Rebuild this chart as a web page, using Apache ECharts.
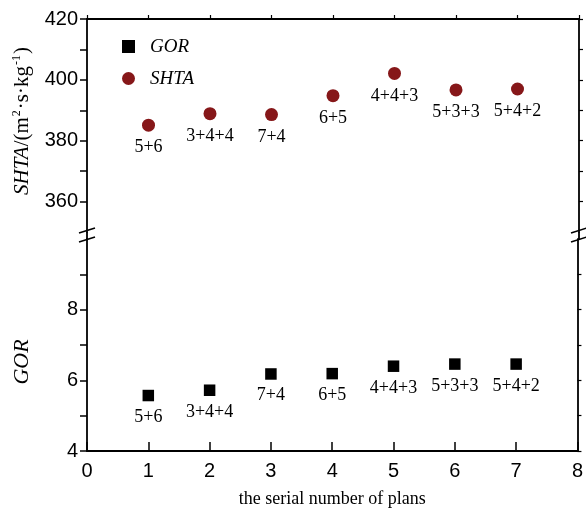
<!DOCTYPE html>
<html>
<head>
<meta charset="utf-8">
<script src="https://cdn.jsdelivr.net/npm/echarts@6/dist/echarts.min.js"></script>
<style>
  html, body { margin: 0; padding: 0; background: #fff; }
  #chart { width: 586px; height: 518px; }
</style>
</head>
<body>
<div id="chart"></div>
<script>
// Plan numbers and their stage arrangements
const plans = [1, 2, 3, 4, 5, 6, 7];
const planLabels = ['5+6', '3+4+4', '7+4', '6+5', '4+4+3', '5+3+3', '5+4+2'];

// Specific heat transfer area, m²·s·kg⁻¹
const shta = [385.1, 388.9, 388.6, 394.8, 402.1, 396.7, 397.0];
// Gained output ratio
const gor = [5.57, 5.72, 6.18, 6.19, 6.40, 6.46, 6.46];

// Tick values
const xTicks = [0, 1, 2, 3, 4, 5, 6, 7, 8];
const shtaTickLabels = [360, 380, 400, 420];
const shtaTicks = [360, 370, 380, 390, 400, 410, 420];
const gorTickLabels = [4, 6, 8];
const gorTicks = [4, 5, 6, 7, 8, 9];

// Layout of the two stacked panels (broken y axis)
const L = 87, R = 7, TOP = 19, TOP_H = 213, BOT_TOP = 239, BOT = 67;
const W = 586, H = 518;
const xLeft = L, xRight = W - R;
const breakTop = TOP + TOP_H, breakBot = BOT_TOP;

const black = '#000';
const red = '#861719';
const lineW = 1.8;
const sans = 'Liberation Sans';
const serif = 'Liberation Serif';

const axisLine = { show: true, onZero: false, lineStyle: { color: black, width: lineW } };

const pts = (ys) => plans.map((x, i) => [x, ys[i]]);

const chart = echarts.init(document.getElementById('chart'), null, { renderer: 'canvas' });

function breakMarks(x) {
  const out = [];
  [breakTop - 1.5, breakBot + 0.5].forEach((y) => {
    out.push({
      type: 'line', z: 100,
      shape: { x1: x - 8, y1: y + 2.6, x2: x + 8, y2: y - 2.6 },
      style: { stroke: black, lineWidth: 1.6 }
    });
  });
  out.push({
    type: 'line', z: 99,
    shape: { x1: x, y1: breakTop, x2: x, y2: breakBot },
    style: { stroke: black, lineWidth: lineW }
  });
  return out;
}

const pointLabel = {
  show: true, position: 'bottom', distance: 7,
  fontFamily: serif, fontSize: 18, color: black, opacity: 1,
  formatter: (p) => planLabels[p.dataIndex]
};

const option = {
  animation: false,
  backgroundColor: '#fff',
  grid: [
    { left: L, right: R, top: TOP, height: TOP_H },
    { left: L, right: R, top: BOT_TOP, bottom: BOT }
  ],
  legend: {
    orient: 'vertical',
    left: 117, top: 32,
    itemWidth: 13, itemHeight: 13, itemGap: 13,
    data: [{ name: 'GOR', icon: 'rect' }, { name: 'SHTA', icon: 'circle' }],
    textStyle: { fontFamily: serif, fontStyle: 'italic', fontSize: 19, color: black, padding: [0, 0, 0, 10] }
  },
  xAxis: [
    {
      gridIndex: 0, type: 'value', min: 0, max: 8, interval: 1, position: 'top',
      axisLine: axisLine,
      axisTick: { show: true, inside: false, length: 4, lineStyle: { color: black, width: 1.2 } },
      axisLabel: { show: false }, splitLine: { show: false }
    },
    {
      gridIndex: 1, type: 'value', min: 0, max: 8, interval: 1, position: 'bottom',
      axisLine: axisLine,
      axisTick: { show: true, inside: true, length: 9, lineStyle: { color: black, width: 1.5 } },
      axisLabel: { show: true, margin: 10, fontFamily: sans, fontSize: 20, color: black,
        formatter: (v) => xTicks.includes(v) ? String(v) : '' },
      splitLine: { show: false },
      name: 'the serial number of plans', nameLocation: 'middle', nameGap: 39,
      nameTextStyle: { fontFamily: serif, fontSize: 18, color: black }
    }
  ],
  yAxis: [
    {
      gridIndex: 0, type: 'value', min: 350, max: 420, position: 'left',
      axisLine: axisLine,
      axisTick: { show: true, inside: false, length: 7, customValues: shtaTicks, lineStyle: { color: black, width: 1.5 } },
      axisLabel: { show: true, margin: 9, fontFamily: sans, fontSize: 20, color: black, customValues: shtaTickLabels },
      splitLine: { show: false }
    },
    {
      gridIndex: 0, type: 'value', min: 350, max: 420, position: 'right',
      axisLine: axisLine,
      axisTick: { show: true, inside: false, length: 4, customValues: shtaTicks, lineStyle: { color: black, width: 1.2 } },
      axisLabel: { show: false }, splitLine: { show: false }
    },
    {
      gridIndex: 1, type: 'value', min: 4, max: 10, position: 'left',
      axisLine: axisLine,
      axisTick: { show: true, inside: false, length: 7, customValues: gorTicks, lineStyle: { color: black, width: 1.5 } },
      axisLabel: { show: true, margin: 9, fontFamily: sans, fontSize: 20, color: black, customValues: gorTickLabels },
      splitLine: { show: false }
    },
    {
      gridIndex: 1, type: 'value', min: 4, max: 10, position: 'right',
      axisLine: axisLine,
      axisTick: { show: true, inside: false, length: 4, customValues: gorTicks, lineStyle: { color: black, width: 1.2 } },
      axisLabel: { show: false }, splitLine: { show: false }
    }
  ],
  series: [
    {
      name: 'GOR', type: 'scatter', xAxisIndex: 1, yAxisIndex: 2,
      symbol: 'rect', symbolSize: 11.5,
      itemStyle: { color: black, opacity: 1 },
      data: pts(gor),
      label: pointLabel
    },
    {
      name: 'SHTA', type: 'scatter', xAxisIndex: 0, yAxisIndex: 0,
      symbol: 'circle', symbolSize: 13,
      itemStyle: { color: red, opacity: 1 },
      data: pts(shta),
      label: pointLabel
    }
  ],
  graphic: [
    ...breakMarks(xLeft),
    ...breakMarks(xRight),
    {
      type: 'text', x: 22, y: 121, rotation: Math.PI / 2,
      style: {
        text: '{i|SHTA}{n|/(m}{s|2}{n|·s·kg}{s|-1}{n|)}',
        align: 'center', verticalAlign: 'middle',
        rich: {
          i: { fontFamily: serif, fontStyle: 'italic', fontSize: 21, fill: black },
          n: { fontFamily: serif, fontSize: 21, fill: black },
          s: { fontFamily: serif, fontSize: 12, fill: black, verticalAlign: 'top', padding: [0, 1, 10, 1] }
        }
      }
    },
    {
      type: 'text', x: 22, y: 362, rotation: Math.PI / 2,
      style: {
        text: 'GOR', align: 'center', verticalAlign: 'middle',
        fontFamily: serif, fontStyle: 'italic', fontSize: 22, fill: black
      }
    }
  ]
};

chart.setOption(option);
</script>
</body>
</html>
